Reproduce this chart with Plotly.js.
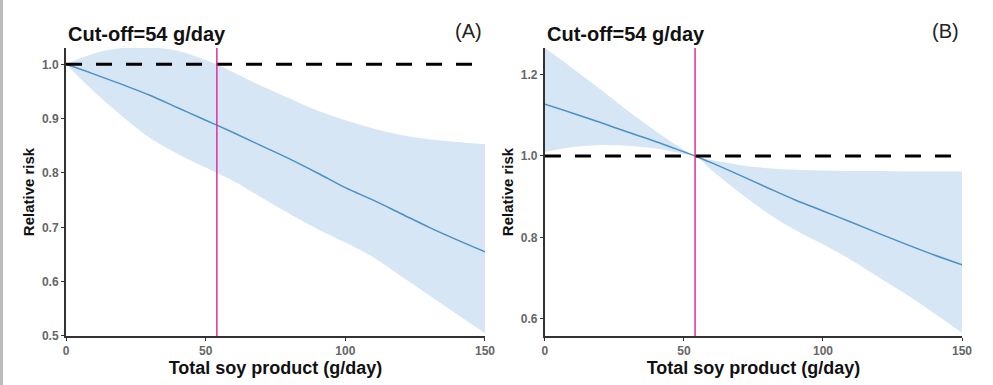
<!DOCTYPE html>
<html>
<head>
<meta charset="utf-8">
<script src="https://cdn.plot.ly/plotly-3.0.1.min.js"></script>
<style>html,body{margin:0;padding:0;background:#fff;}#chart{width:993px;height:385px;}</style>
</head>
<body>
<div id="chart"></div>
<script>
// Dose (g/day)
const soyDose = [0, 10, 20, 30, 40, 50, 54, 60, 70, 80, 90, 100, 110, 120, 130, 140, 150];

// Panel A: linear trend
const rrA    = [1.000, 0.982, 0.963, 0.943, 0.920, 0.897, 0.888, 0.874, 0.850, 0.826, 0.800, 0.773, 0.750, 0.725, 0.700, 0.677, 0.655];
const upperA = [1.000, 1.020, 1.030, 1.031, 1.025, 1.008, 1.000, 0.985, 0.960, 0.937, 0.915, 0.897, 0.882, 0.870, 0.862, 0.857, 0.853];
const lowerA = [1.000, 0.950, 0.905, 0.865, 0.835, 0.810, 0.800, 0.785, 0.755, 0.725, 0.697, 0.672, 0.645, 0.610, 0.575, 0.540, 0.505];

// Panel B: referenced at cut-off
const rrB    = [1.127, 1.105, 1.082, 1.058, 1.035, 1.010, 1.000, 0.983, 0.953, 0.922, 0.892, 0.865, 0.838, 0.810, 0.783, 0.757, 0.733];
const upperB = [1.265, 1.215, 1.163, 1.110, 1.060, 1.015, 1.000, 0.990, 0.978, 0.970, 0.966, 0.964, 0.963, 0.963, 0.962, 0.962, 0.962];
const lowerB = [1.010, 1.022, 1.027, 1.025, 1.018, 1.005, 1.000, 0.965, 0.910, 0.860, 0.818, 0.783, 0.745, 0.702, 0.660, 0.614, 0.566];

const cutoff = 54;
const refRR = 1;
const xTicks = [0, 50, 100, 150];
const yTicksA = [0.5, 0.6, 0.7, 0.8, 0.9, 1.0];
const yTicksB = [0.6, 0.8, 1.0, 1.2];
const panelLabels = ['(A)', '(B)'];
const cutoffLabel = 'Cut-off=54 g/day';
const xLabel = 'Total soy product (g/day)';
const yLabel = 'Relative risk';

const bandColor = '#d6e6f4';
const lineColor = '#4a90c9';
const magenta = '#e0309a';
const xEnds = [soyDose[0], soyDose[soyDose.length - 1]];

function panel(xa, ya, rr, up, lo) {
  return [
    {x: soyDose, y: lo, xaxis: xa, yaxis: ya, mode: 'lines', line: {width: 0, color: bandColor, shape: 'spline'}, hoverinfo: 'skip', showlegend: false},
    {x: soyDose, y: up, xaxis: xa, yaxis: ya, mode: 'lines', fill: 'tonexty', fillcolor: bandColor, line: {width: 0, color: bandColor, shape: 'spline'}, hoverinfo: 'skip', showlegend: false},
    {x: soyDose, y: rr, xaxis: xa, yaxis: ya, mode: 'lines', line: {width: 1.5, color: lineColor, shape: 'spline'}, showlegend: false},
    {x: xEnds, y: [refRR, refRR], xaxis: xa, yaxis: ya, mode: 'lines', line: {width: 3, color: '#000', dash: '16px,14px'}, showlegend: false}
  ];
}

const data = [].concat(
  panel('x', 'y', rrA, upperA, lowerA),
  panel('x2', 'y2', rrB, upperB, lowerB)
);

const FAM = 'Liberation Sans, Arial, sans-serif';
const tickFont = {family: FAM, size: 12, color: '#666', weight: 'bold'};
const xTitleFont = {family: FAM, size: 18, color: '#111', weight: 'bold'};
const yTitleFont = {family: FAM, size: 15, color: '#111', weight: 'bold'};
const cutFont = {family: FAM, size: 20, color: '#111', weight: 'bold'};
const panelFont = {family: FAM, size: 20, color: '#222'};

function xaxis(domain, anchor) {
  return {domain: domain, anchor: anchor, range: [0, 150], tickvals: xTicks, ticks: 'outside', ticklen: 3, tickcolor: '#333',
    showline: true, linecolor: '#333', linewidth: 2, showgrid: false, zeroline: false, tickfont: tickFont,
    title: {text: xLabel, font: xTitleFont, standoff: 2}};
}
function yaxis(domain, anchor, range, ticks) {
  return {domain: domain, anchor: anchor, range: range, tickvals: ticks, tickformat: '.1f', ticks: 'outside', ticklen: 3, tickcolor: '#333',
    showline: true, linecolor: '#333', linewidth: 2, showgrid: false, zeroline: false, tickfont: tickFont,
    title: {text: yLabel, font: yTitleFont, standoff: 4}};
}

const yDom = [0.1273, 0.8753];
const layout = {
  width: 993, height: 385,
  margin: {l: 0, r: 0, t: 0, b: 0},
  paper_bgcolor: '#fff', plot_bgcolor: '#fff',
  xaxis: xaxis([0.0665, 0.4884], 'y'),
  yaxis: yaxis(yDom, 'x', [0.5, 1.03], yTicksA),
  xaxis2: xaxis([0.5488, 0.9688], 'y2'),
  yaxis2: yaxis(yDom, 'x2', [0.558, 1.265], yTicksB),
  shapes: [
    {type: 'line', xref: 'x', yref: 'y domain', x0: cutoff, x1: cutoff, y0: 0, y1: 1, line: {color: magenta, width: 1.5}},
    {type: 'line', xref: 'x2', yref: 'y2 domain', x0: cutoff, x1: cutoff, y0: 0, y1: 1, line: {color: magenta, width: 1.5}},
    {type: 'rect', xref: 'paper', yref: 'paper', x0: 0, x1: 0.003, y0: 0, y1: 1, fillcolor: '#bbb', line: {width: 0}}
  ],
  annotations: [
    {xref: 'paper', yref: 'paper', x: 0.0665, y: 1 - 34.5/385, xanchor: 'left', yanchor: 'middle', text: cutoffLabel, showarrow: false, font: cutFont},
    {xref: 'paper', yref: 'paper', x: 0.5488, y: 1 - 34.5/385, xanchor: 'left', yanchor: 'middle', text: cutoffLabel, showarrow: false, font: cutFont},
    {xref: 'paper', yref: 'paper', x: 0.487, y: 1 - 31/385, xanchor: 'right', yanchor: 'middle', text: panelLabels[0], showarrow: false, font: panelFont},
    {xref: 'paper', yref: 'paper', x: 0.968, y: 1 - 31/385, xanchor: 'right', yanchor: 'middle', text: panelLabels[1], showarrow: false, font: panelFont}
  ]
};

Plotly.newPlot('chart', data, layout, {displayModeBar: false, staticPlot: true});
</script>
</body>
</html>
